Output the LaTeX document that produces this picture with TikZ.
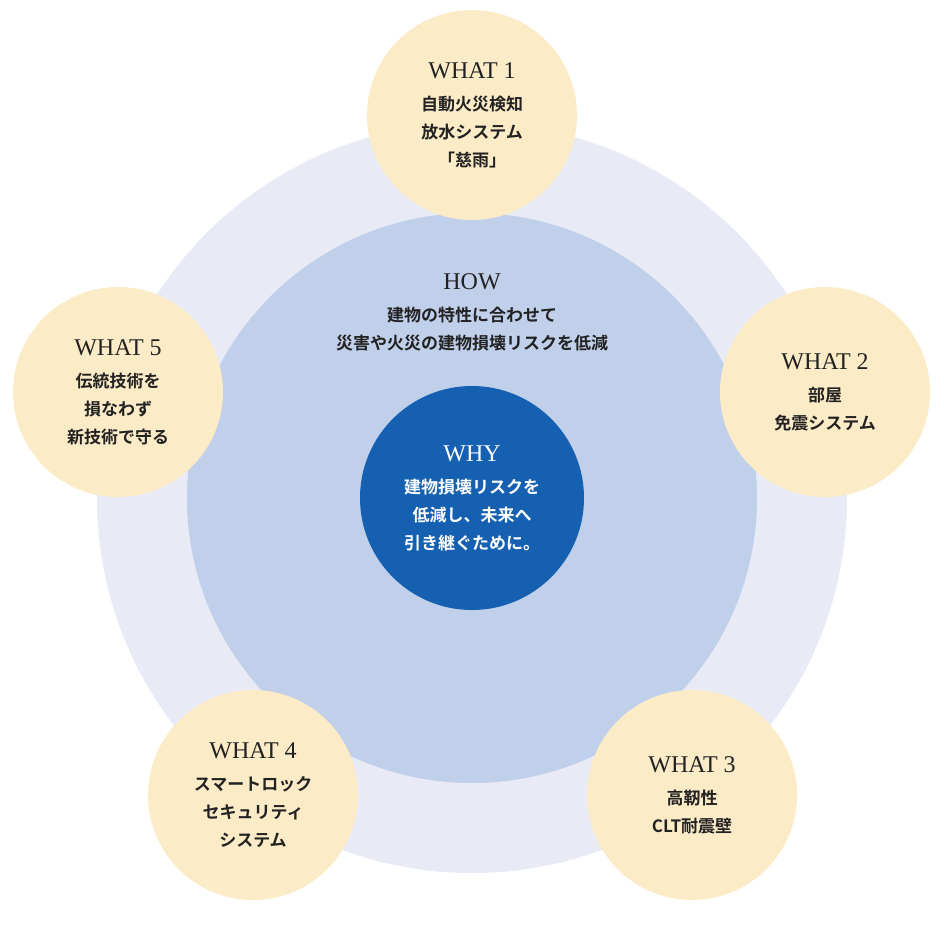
\documentclass[tikz,border=0pt]{standalone}
\usepackage{fontspec}
\setmainfont{Liberation Serif}
\newfontfamily\jp{Noto Sans CJK JP}[BoldFont={* Bold}]
\usetikzlibrary{positioning}
\definecolor{ringouter}{HTML}{E8EAF5}
\definecolor{ringmid}{HTML}{C0CFEA}
\definecolor{whyblue}{HTML}{1560B0}
\definecolor{whatfill}{HTML}{FCEBC7}
\definecolor{ink}{HTML}{222222}
\begin{document}
\begin{tikzpicture}[x=1pt,y=-1pt,
  what_node/.style={circle,fill=whatfill,minimum size=210pt,inner sep=0pt,align=center,text=ink,font=\jp\bfseries\fontsize{17}{28}\selectfont},
  ttl/.style={font=\rmfamily\fontsize{24}{28}\selectfont}]
  \useasboundingbox (0,0) rectangle (944,929);
  \node[circle,fill=ringouter,minimum size=750pt] (outer) at (472,498) {};
  \node[circle,fill=ringmid,minimum size=570pt] (mid) at (472,498) {};
  \node[circle,fill=whyblue,minimum size=224pt,inner sep=0pt,align=center,text=white,font=\jp\bfseries\fontsize{17}{28}\selectfont] (why) at (472,498)
    {{\rmfamily\mdseries\fontsize{24}{28}\selectfont WHY}\\[4pt]建物損壊リスクを\\低減し、未来へ\\引き継ぐために。};
  \node[align=center,text=ink,font=\jp\bfseries\fontsize{17}{28}\selectfont] (how) at (472,312)
    {{\rmfamily\mdseries\fontsize{24}{28}\selectfont HOW}\\[4pt]建物の特性に合わせて\\災害や火災の建物損壊リスクを低減};
  \node[what_node] (w1) at (472,115) {{\rmfamily\mdseries\fontsize{24}{28}\selectfont WHAT 1}\\[4pt]自動火災検知\\放水システム\\「慈雨」};
  \node[what_node] (w2) at (825,392) {{\rmfamily\mdseries\fontsize{24}{28}\selectfont WHAT 2}\\[4pt]部屋\\免震システム};
  \node[what_node] (w3) at (692,795) {{\rmfamily\mdseries\fontsize{24}{28}\selectfont WHAT 3}\\[4pt]高靭性\\CLT耐震壁};
  \node[what_node] (w4) at (253,795) {{\rmfamily\mdseries\fontsize{24}{28}\selectfont WHAT 4}\\[4pt]スマートロック\\セキュリティ\\システム};
  \node[what_node] (w5) at (118,392) {{\rmfamily\mdseries\fontsize{24}{28}\selectfont WHAT 5}\\[4pt]伝統技術を\\損なわず\\新技術で守る};
\end{tikzpicture}
\end{document}
